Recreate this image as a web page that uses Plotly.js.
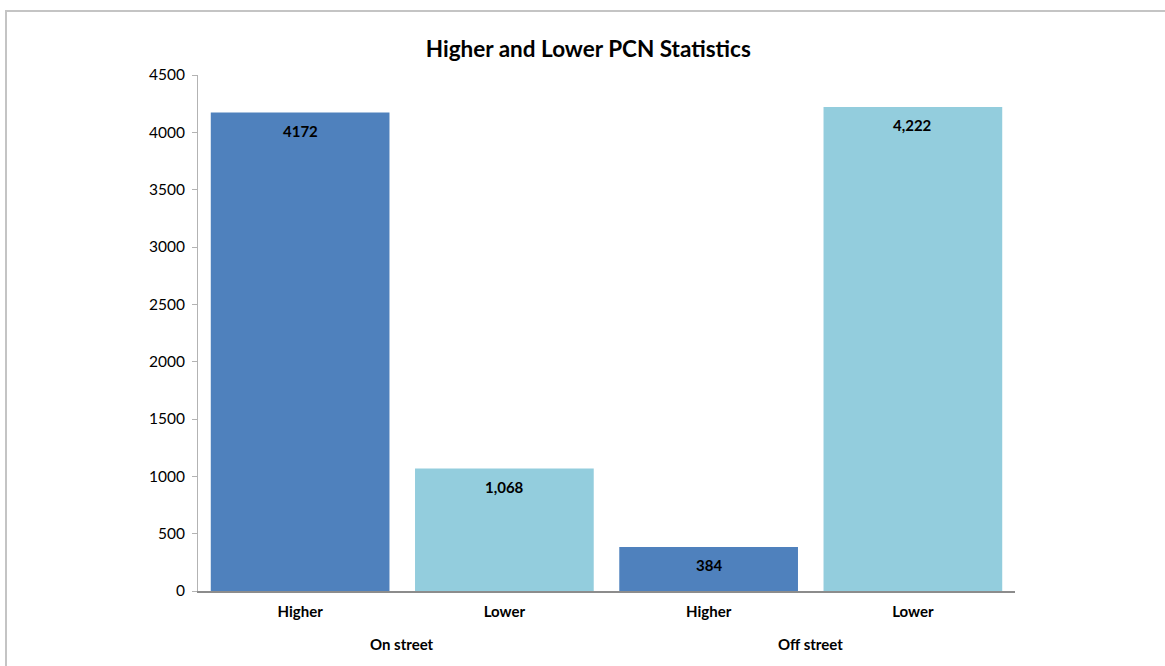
<!DOCTYPE html>
<html>
<head>
<meta charset="utf-8">
<script src="https://cdn.plot.ly/plotly-3.0.1.min.js"></script>
<style>
  html, body { margin: 0; padding: 0; background: #fff; }
  #wrap { position: relative; width: 1165px; height: 666px; overflow: hidden; }
  #chart { width: 1165px; height: 666px; }
  #frame { position: absolute; left: 5px; top: 10px; width: 1200px; height: 700px;
           border-top: 2px solid #c4c4c4; border-left: 2px solid #c4c4c4; pointer-events: none; }
</style>
</head>
<body>
<div id="wrap">
  <div id="chart"></div>
  <div id="frame"></div>
</div>
<script>
const groups = ["On street", "On street", "Off street", "Off street"];
const categories = ["Higher", "Lower", "Higher", "Lower"];
const values = [4172, 1068, 384, 4222];
const valueLabels = ["4172", "1,068", "384", "4,222"];
const groupNames = ["On street", "Off street"];
const yTicks = [0, 500, 1000, 1500, 2000, 2500, 3000, 3500, 4000, 4500];

const colorFor = { "Higher": "#4F81BD", "Lower": "#93CDDD" };
const xs = values.map((_, i) => i);
const FONT = "Lato, 'Open Sans', sans-serif";

const trace = {
  type: "bar",
  x: xs,
  y: values,
  marker: { color: categories.map(c => colorFor[c]), line: { width: 0 } },
  hoverinfo: "y",
  showlegend: false
};

const annotations = [];
values.forEach((v, i) => {
  annotations.push({
    x: xs[i], y: v, xref: "x", yref: "y",
    text: "<b>" + valueLabels[i] + "</b>",
    showarrow: false, yanchor: "top", yshift: -7,
    font: { family: FONT, size: 15, color: "#000" }
  });
});
groupNames.forEach(g => {
  const idx = xs.filter((_, i) => groups[i] === g);
  const center = idx.reduce((a, b) => a + b, 0) / idx.length;
  annotations.push({
    x: center, y: 0, xref: "x", yref: "paper",
    text: "<b>" + g + "</b>",
    showarrow: false, yanchor: "middle", yshift: -53,
    font: { family: FONT, size: 15, color: "#000" }
  });
});

const layout = {
  width: 1165, height: 666,
  margin: { l: 198, r: 150, t: 75, b: 75 },
  paper_bgcolor: "#fff", plot_bgcolor: "#fff",
  title: { text: "<b>Higher and Lower PCN Statistics</b>", x: 0.505, xanchor: "center",
           y: 0.926, yanchor: "middle",
           font: { family: FONT, size: 22.5, color: "#000" } },
  bargap: 0.125,
  xaxis: {
    range: [-0.5, xs.length - 0.5],
    tickvals: xs, ticktext: categories.map(c => "<b>" + c + "</b>"),
    showgrid: false, zeroline: false,
    showline: true, linecolor: "#8c8c8c", linewidth: 2,
    ticks: "", ticklabelstandoff: 6,
    tickfont: { family: FONT, size: 15, color: "#000" },
    fixedrange: true
  },
  yaxis: {
    range: [0, 4500],
    tickvals: yTicks, ticktext: yTicks.map(String),
    showgrid: false, zeroline: false,
    showline: true, linecolor: "#b3b3b3", linewidth: 1,
    ticks: "outside", ticklen: 5, tickcolor: "#b3b3b3",
    ticklabelstandoff: 4,
    tickfont: { family: FONT, size: 15.5, color: "#000" },
    fixedrange: true
  },
  annotations: annotations
};

Plotly.newPlot("chart", [trace], layout, { displayModeBar: false, staticPlot: true });
</script>
</body>
</html>
